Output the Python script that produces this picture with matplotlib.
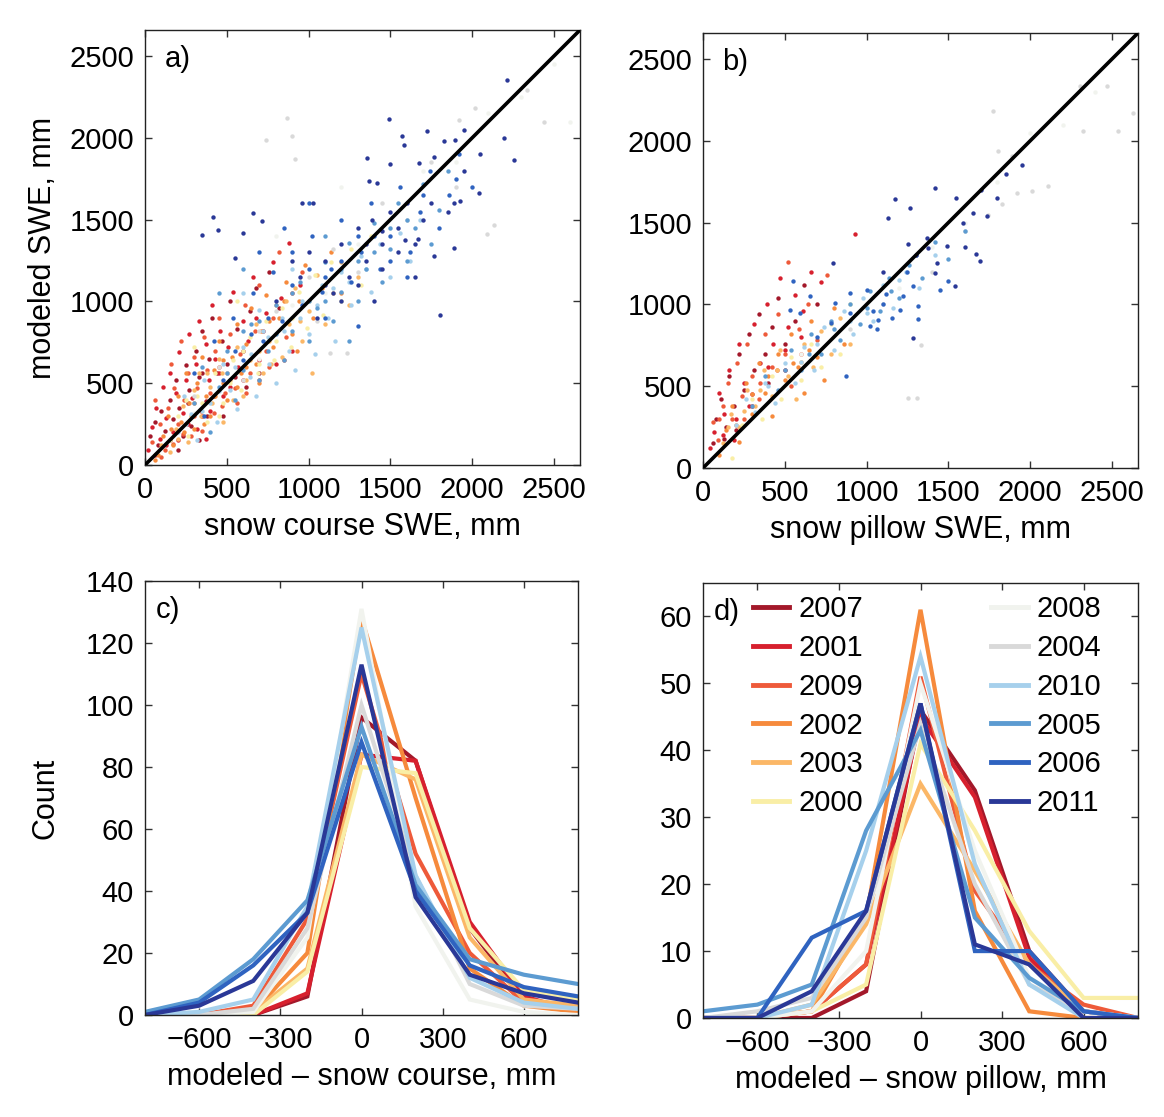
import matplotlib
matplotlib.use("Agg")
import matplotlib.pyplot as plt
import numpy as np

plt.rcParams['font.family'] = ['Liberation Sans', 'DejaVu Sans']

years = ["2007", "2001", "2009", "2002", "2003", "2000",
         "2008", "2004", "2010", "2005", "2006", "2011"]
colors = ["#a3182a", "#d7202e", "#ee5a3a", "#f68a3c", "#fbb767", "#f9eea6",
          "#f1f3ee", "#d9d9d9", "#a6d0ec", "#5c9bd1", "#2f63c0", "#2a3897"]

# ---------------- panel a: snow course (observed, modeled) ----------------
a_2007 = [(30,180),(60,260),(80,120),(100,330),(120,210),(150,400),(170,280),(190,520),(210,350),(230,180),
          (250,610),(270,460),(290,300),(310,700),(330,540),(350,820),(370,390),(390,650),(410,900),(440,560),
          (470,760),(500,620),(520,1000),(560,830),(600,700),(640,940),(680,1080),(720,820),(760,1180),(820,960),
          (150,150),(200,90),(280,240),(350,560),(420,420),(480,300),(550,540),(620,480),(380,300),(260,380),
          (700,560),(330,150)]
a_2001 = [(20,90),(40,230),(70,350),(90,160),(110,480),(130,290),(150,560),(170,200),(190,440),(210,690),
          (230,320),(250,520),(270,800),(290,410),(310,620),(330,880),(350,300),(370,740),(390,520),(410,980),
          (430,650),(460,820),(480,420),(510,720),(540,1060),(570,600),(600,880),(630,760),(660,1150),(700,640),
          (740,930),(780,1240),(830,1020),(880,1360),(950,1100),
          (60,60),(130,120),(200,150),(260,250),(320,220),(400,330),(450,560),(520,480),(600,520),(680,900),
          (800,620),(370,160),(900,700)]
a_2009 = [(40,140),(60,400),(90,250),(120,90),(140,350),(160,620),(180,470),(200,250),(220,760),(240,400),
          (260,560),(280,180),(300,660),(320,470),(340,330),(360,780),(380,580),(400,440),(430,700),(450,900),
          (470,360),(500,560),(520,800),(550,470),(580,680),(610,980),(640,560),(670,820),(700,1100),(740,700),
          (780,900),(820,1300),(860,780),(900,1050),(960,1180),
          (100,50),(170,130),(230,190),(300,300),(350,210),(420,320),(490,440),(560,380),(620,440),(700,520),
          (760,600),(850,640),(450,600)]
a_2002 = [(80,60),(110,180),(140,300),(170,120),(200,420),(220,260),(250,560),(270,380),(300,220),(320,500),
          (350,660),(370,420),(400,300),(420,580),(450,760),(480,500),(500,400),(530,660),(560,860),(590,560),
          (620,740),(650,960),(680,620),(710,820),(740,1040),(780,720),(820,900),(860,1120),(900,800),(940,1000),
          (980,1220),(1030,900),(1080,1080),(1140,1300),(1200,1050),
          (60,30),(160,220),(240,200),(300,380),(360,250),(430,420),(480,640),(560,480),(620,600),(700,500),
          (760,880),(850,1000),(930,700)]
a_2003 = [(150,80),(190,220),(230,360),(260,140),(300,460),(340,300),(380,560),(410,380),(450,650),(480,260),
          (520,520),(560,720),(600,420),(640,640),(680,860),(720,560),(760,760),(800,980),(840,660),(880,860),
          (920,1080),(960,760),(1000,940),(1050,1160),(1100,860),(1150,1050),(1200,1240),(1250,980),(1300,1150),(1020,560),
          (100,120),(200,160),(280,300),(330,560),(400,480),(470,560),(540,400),(620,520),(700,700),(770,620),
          (860,1000),(950,880)]
a_2000 = [(200,300),(260,180),(320,420),(380,260),(430,560),(480,380),(540,640),(590,460),(640,780),(690,560),
          (740,880),(790,640),(840,960),(890,720),(940,1060),(990,840),(1040,1160),(1090,920),(1140,1240),(1200,1000),
          (1260,1320),(1320,1100),(1380,1400),(300,720),(560,1000),
          (150,150),(250,400),(350,380),(450,300),(520,500),(600,700),(700,620),(800,760),(900,900),(1000,1000)]
a_2008 = [(300,320),(500,560),(700,650),(900,980),(1100,1050),(1300,1350),(1500,1450),(1700,1800),(1900,1850),
          (2100,2150),(2300,2250),(2500,2450),(2600,2100),(800,1400),(1200,1700)]
a_2004 = [(300,420),(450,600),(600,520),(740,1990),(867,2120),(898,2010),(918,1870),(1132,683),(1234,683),
          (1918,2110),(2020,2180),(2336,2295),(2438,2100),(2132,1470),(2091,1410),(800,940),(1000,1150),(1150,1320),
          (1300,1180),(1450,1600),(1600,1500),(1750,1850),(1900,1700),(700,820),(1050,880)]
a_2010 = [(200,200),(240,420),(280,310),(320,150),(360,520),(400,380),(440,260),(480,620),(520,460),(560,340),
          (600,720),(640,540),(680,420),(720,820),(760,620),(800,500),(840,900),(880,700),(920,580),(960,1000),
          (1000,800),(1040,680),(1080,1100),(1120,900),(1160,760),(1200,1180),(1260,980),(1320,1280),(1380,1060),
          (1440,1350),(1500,1150),(1560,1420),(1620,1250),(1680,1500),(600,1050),
          (250,250),(350,330),(450,450),(550,600),(650,680),(750,780),(850,820),(950,900),(1050,980),(1150,1080),
          (1250,1120),(1350,1200),(900,1200),(700,950)]
a_2005 = [(300,380),(350,600),(400,200),(450,480),(500,700),(550,400),(600,580),(650,860),(700,520),(750,700),
          (800,980),(850,640),(900,820),(950,1120),(1000,760),(1050,960),(1100,1240),(1150,880),(1200,1060),(1250,1360),
          (1300,1000),(1350,1200),(1400,1480),(1450,1120),(1500,1320),(1550,1600),(1600,1250),(1650,1450),(1700,1720),
          (1750,1350),(1800,1560),(1850,1800),(450,1050),(600,1200),(1250,760),
          (500,560),(600,820),(700,880),(800,800),(900,1050),(1000,1000),(1100,1000),(1200,1200),(1300,1250),
          (1400,1300),(1500,1450),(1600,1500),(1100,1400)]
a_2006 = [(300,560),(360,300),(420,760),(480,520),(540,900),(600,640),(660,1050),(720,760),(780,1180),(840,880),
          (900,1300),(960,980),(1020,1400),(1080,1060),(1140,1200),(1200,1500),(1260,1120),(1320,1300),(1380,1600),
          (1440,1200),(1500,1400),(1560,1700),(1620,1300),(1680,1550),(1740,1800),(1800,1450),(1860,1650),(1920,1900),
          (2000,1700),(700,1300),(850,1450),(1000,1600),(1100,900),(1300,850),(1600,1150),
          (550,700),(650,800),(750,900),(900,1100),(1000,1200),(1100,1150),(1200,1250),(1300,1400),(1400,1400),
          (1500,1250),(1700,1650),(1900,1750)]
a_2011 = [(2213,2356),(2254,1867),(2193,2000),(1724,2040),(1495,2115),(1571,2013),(1585,1958),(1356,1877),
          (1499,1840),(1673,1846),(1765,1881),(1826,1983),(1897,1989),(2040,1663),(1887,1601),(1928,1612),
          (1765,1275),(1887,1326),(1667,1381),(1591,1377),(1448,1428),(1387,1500),(1367,1734),(1418,1724),
          (1030,1601),(958,1601),(714,1489),(663,1544),(418,1514),(347,1408),(449,1438),(551,1265),(602,1418),
          (1806,918),(1100,1250),(1200,1350),(1250,1150),(1150,1050),(1300,1100),(1350,1250),(1450,1200),
          (1500,1550),(1550,1300),(1600,1600),(1700,1500),(1050,900),(950,1150),(1400,1000),(1650,1150),(1300,1450),
          (800,1000),(900,1250),(1000,1300),(1100,1100),(1200,1000),(1350,1350),(1450,1350),(1550,1450),
          (1650,1350),(1750,1600),(1850,1550),(1950,1800),(2050,1900),(1950,2050)]

# ---------------- panel b: snow pillow (observed, modeled) ----------------
b_2007 = [(80,300),(110,420),(140,250),(160,560),(190,380),(220,700),(250,480),(280,820),(310,600),(340,940),
          (380,700),(420,860),(460,1040),(500,760),(560,900),(620,1120),(700,1000),
          (60,150),(130,180),(200,230),(300,380),(400,520),(500,600)]
b_2001 = [(40,120),(70,220),(100,460),(130,330),(160,600),(190,170),(220,760),(250,520),(280,380),(310,880),
          (350,640),(390,1000),(430,760),(470,1160),(520,860),(560,1060),(610,960),(660,1200),(720,1140),(930,1430),
          (120,200),(200,300),(300,450),(400,620),(500,720),(600,800)]
b_2009 = [(60,280),(90,170),(120,380),(150,520),(180,300),(210,640),(240,440),(270,760),(300,560),(340,420),
          (380,820),(420,620),(460,940),(500,700),(540,500),(590,850),(640,1000),(700,780),(760,1180),(520,1260),
          (100,300),(250,300),(350,520),(450,600),(600,700)]
b_2002 = [(100,80),(140,230),(180,380),(220,160),(260,520),(300,330),(340,640),(380,460),(420,320),(460,700),
          (500,540),(540,820),(580,620),(620,460),(660,900),(700,680),(740,540),(800,980),(860,760),
          (200,260),(300,450),(400,560),(550,640),(650,720)]
b_2003 = [(120,150),(170,330),(220,250),(270,480),(320,380),(370,600),(420,440),(470,720),(520,560),(570,420),
          (620,760),(670,620),(720,840),(780,700),(840,920),(900,760),
          (150,250),(250,350),(350,480),(450,600),(600,650)]
b_2000 = [(180,60),(240,260),(300,420),(360,300),(420,560),(480,420),(540,680),(600,540),(660,760),(720,620),
          (780,880),(840,700),(900,1000)]
b_2008 = [(600,700),(800,850),(1000,1000),(1200,1100),(1400,1350),(1600,1500),(1800,1750),(2000,2050),
          (2200,2100),(2400,2300)]
b_2004 = [(1775,2180),(2305,2336),(2469,2336),(2326,2060),(2632,2173),(2540,2060),(2112,1724),(2009,1693),
          (1918,1683),(1826,1612),(1744,1550),(1887,1907),(1805,1938),(1306,428),(1255,428),(1336,755),
          (1600,1450),(1100,1000),(900,850),(1400,1200)]
b_2010 = [(200,260),(260,420),(320,340),(380,520),(440,400),(500,640),(560,520),(620,740),(680,600),(740,860),
          (800,720),(860,960),(920,820),(980,1040),(1040,900),(1100,1120),(1160,980),(1240,1200),(1320,1100),(1420,1300),
          (400,500),(600,650),(700,760),(900,900),(1000,950),(1200,1150)]
b_2005 = [(300,380),(380,560),(460,480),(540,720),(600,600),(660,820),(720,700),(780,900),(840,780),(900,1000),
          (960,880),(1020,1080),(1080,960),(1140,1160),(1200,1040),(1260,1240),(1340,1160),(1420,1380),(1500,1280),(1600,1450),
          (500,600),(650,700),(800,850),(1000,980),(1150,1080),(1300,1300)]
b_2006 = [(551,1142),(530,969),(592,948),(653,1050),(785,887),(877,561),(806,1010),(898,1071),(1000,1091),
          (1020,867),(1061,847),(1071,908),(1040,959),(1122,1061),(1285,1112),(1224,1050),(1204,969),(1153,918),
          (1316,912),(1316,989),(1448,1091),(1499,1142),
          (700,800),(900,950),(1100,1000),(1250,1200)]
b_2011 = [(1173,1642),(1418,1714),(1265,1591),(1132,1530),(1255,1367),(1367,1408),(1377,1346),(1591,1499),
          (1653,1561),(1734,1544),(1693,1265),(1669,1306),(1489,1357),(1428,1255),(1418,1193),(1540,1112),
          (796,1255),(1285,796),(1550,1650),(1850,1800),(1700,1700),(1950,1850),
          (1100,1200),(1300,1300),(1600,1350),(1800,1650)]

# ---------------- panels c, d: histogram counts ----------------
bins = [-800, -600, -400, -200, 0, 200, 400, 600, 800]
c_2007 = [0, 0, 0, 6, 96, 82, 28, 5, 2]
c_2001 = [0, 0, 0, 7, 84, 82, 30, 6, 1]
c_2009 = [0, 0, 3, 31, 110, 52, 20, 4, 1]
c_2002 = [0, 0, 1, 20, 128, 70, 15, 3, 1]
c_2003 = [0, 0, 1, 15, 84, 76, 25, 5, 3]
c_2000 = [0, 0, 0, 14, 80, 78, 28, 8, 5]
c_2008 = [0, 0, 1, 25, 131, 35, 5, 1, 0]
c_2004 = [0, 0, 2, 28, 100, 45, 10, 3, 2]
c_2010 = [0, 1, 5, 35, 125, 45, 12, 4, 2]
c_2005 = [1, 5, 18, 37, 93, 42, 18, 13, 10]
c_2006 = [0, 4, 16, 33, 88, 40, 16, 9, 6]
c_2011 = [0, 3, 11, 33, 113, 38, 13, 7, 4]

d_2007 = [0, 0, 0, 4, 46, 34, 10, 1, 0]
d_2001 = [0, 0, 1, 8, 45, 33, 9, 1, 0]
d_2009 = [0, 0, 1, 8, 51, 19, 8, 2, 0]
d_2002 = [0, 0, 1, 15, 61, 16, 1, 0, 0]
d_2003 = [0, 0, 2, 14, 35, 22, 8, 1, 0]
d_2000 = [0, 0, 1, 5, 41, 28, 13, 3, 3]
d_2008 = [0, 0, 1, 10, 50, 25, 6, 1, 0]
d_2004 = [0, 1, 3, 15, 44, 20, 5, 1, 0]
d_2010 = [0, 0, 2, 25, 54, 23, 5, 0, 0]
d_2005 = [1, 2, 5, 28, 43, 15, 6, 1, 0]
d_2006 = [0, 0, 12, 16, 47, 10, 10, 1, 0]
d_2011 = [0, 0, 4, 16, 47, 11, 8, 0, 0]

a_sets = [a_2007, a_2001, a_2009, a_2002, a_2003, a_2000, a_2008, a_2004, a_2010, a_2005, a_2006, a_2011]
b_sets = [b_2007, b_2001, b_2009, b_2002, b_2003, b_2000, b_2008, b_2004, b_2010, b_2005, b_2006, b_2011]
c_sets = [c_2007, c_2001, c_2009, c_2002, c_2003, c_2000, c_2008, c_2004, c_2010, c_2005, c_2006, c_2011]
d_sets = [d_2007, d_2001, d_2009, d_2002, d_2003, d_2000, d_2008, d_2004, d_2010, d_2005, d_2006, d_2011]

swe_ticks = [0, 500, 1000, 1500, 2000, 2500]
diff_ticks = [-600, -300, 0, 300, 600]

FS = 21
W, H = 1164, 1117
fig = plt.figure(figsize=(W / 100, H / 100), dpi=100)
fig.patch.set_facecolor("white")

def box(l, t, r, b):
    return [l / W, 1 - b / H, (r - l) / W, (b - t) / H]

axa = fig.add_axes(box(145, 30, 580, 465))
axb = fig.add_axes(box(703, 33, 1138, 468))
axc = fig.add_axes(box(145, 581, 578, 1015))
axd = fig.add_axes(box(703, 583, 1138, 1018))

def style(ax):
    ax.tick_params(direction="in", top=True, right=True, length=5, width=1,
                   labelsize=FS, pad=8, color="#333333")
    for s in ax.spines.values():
        s.set_linewidth(1.0)
        s.set_color("#222222")

for ax, sets, xlabel, lab in [(axa, a_sets, "snow course SWE, mm", "a)"),
                              (axb, b_sets, "snow pillow SWE, mm", "b)")]:
    for pts, col in zip(sets, colors):
        arr = np.array(pts, dtype=float)
        ax.scatter(arr[:, 0], arr[:, 1], s=10, color=col, linewidths=0, zorder=2)
    ax.axline((0, 0), slope=1, color="black", lw=2.6, zorder=3)
    ax.set_xlim(0, 2660)
    ax.set_ylim(0, 2660)
    ax.set_xticks(swe_ticks)
    ax.set_yticks(swe_ticks)
    ax.set_xlabel(xlabel, fontsize=FS + 1, labelpad=6)
    ax.text(0.045, 0.965, lab, transform=ax.transAxes, fontsize=FS, va="top", ha="left")
    style(ax)
axa.set_ylabel("modeled SWE, mm", fontsize=FS + 1, labelpad=8)

for ax, sets, xlabel, lab, ylim, yt in [
        (axc, c_sets, "modeled \u2013 snow course, mm", "c)", 140, range(0, 141, 20)),
        (axd, d_sets, "modeled \u2013 snow pillow, mm", "d)", 65, range(0, 61, 10))]:
    for vals, col, yr in zip(sets, colors, years):
        ax.plot(bins, vals, color=col, lw=3.0, label=yr, solid_joinstyle="miter")
    ax.set_xlim(-800, 800)
    ax.set_ylim(0, ylim)
    ax.set_xticks(diff_ticks)
    ax.set_yticks(list(yt))
    ax.set_xlabel(xlabel, fontsize=FS + 1, labelpad=6)
    ax.text(0.025, 0.965, lab, transform=ax.transAxes, fontsize=FS, va="top", ha="left")
    style(ax)
axc.set_ylabel("Count", fontsize=FS + 1, labelpad=18)

leg = axd.legend(ncol=2, loc="upper left", bbox_to_anchor=(0.115, 0.972),
                 frameon=False, fontsize=FS, handlelength=1.25, handletextpad=0.3,
                 columnspacing=4.4, labelspacing=0.37, borderpad=0, borderaxespad=0)
for line in leg.get_lines():
    line.set_linewidth(3.5)

fig.savefig("out.png", dpi=100, facecolor=fig.get_facecolor())
